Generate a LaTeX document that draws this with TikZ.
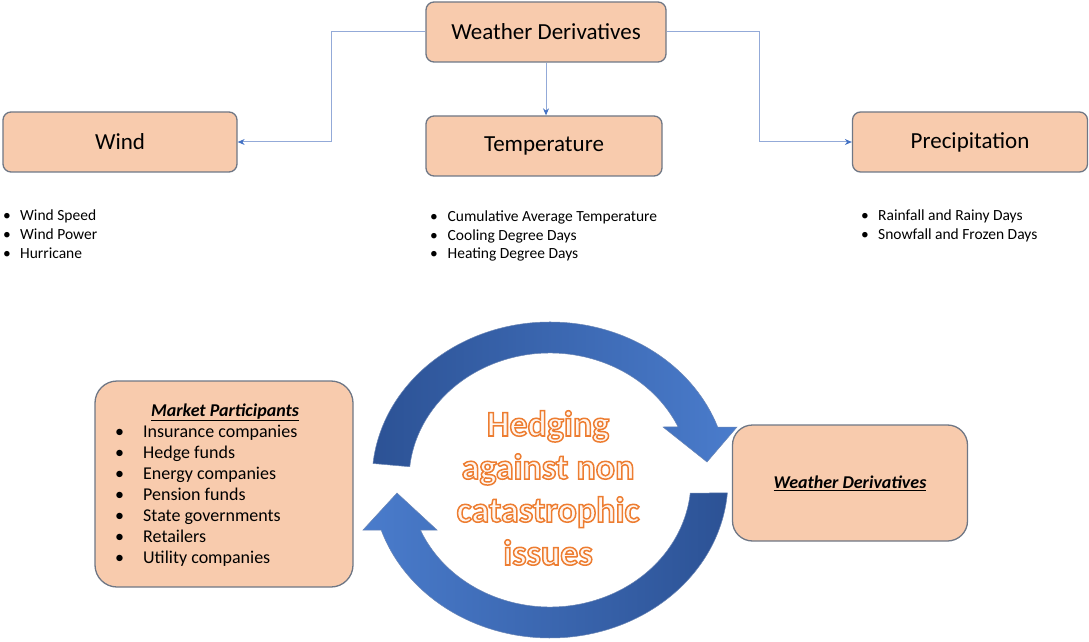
\documentclass[tikz,border=0pt]{standalone}
\usepackage{fontspec}
\setmainfont{Carlito}
\usetikzlibrary{arrows.meta, positioning, calc}

\definecolor{peach}{HTML}{F8CBAD}
\definecolor{boxline}{HTML}{6F7785}
\definecolor{linkline}{HTML}{93AAD8}
\definecolor{linkblue}{HTML}{4472C4}
\definecolor{ringdark}{HTML}{2C5295}
\definecolor{ringlight}{HTML}{4A7CCC}
\definecolor{hedgeorange}{HTML}{ED7D31}
\definecolor{hedgefill}{HTML}{FFF6F0}

\newcommand{\blt}[1]{\makebox[#1][l]{\textbullet}}
% outlined text: fill in the current colour, orange stroke
\newcommand{\outlined}[1]{\special{pdf:literal direct 2 Tr 1.5 w 0.929 0.490 0.192 RG}#1\special{pdf:literal direct 0 Tr}}

\begin{document}
\begin{tikzpicture}[
    x=1pt, y=1pt,
    % --- Node styles ---
    category/.style = {rectangle, rounded corners=8pt, draw=boxline, line width=1.3pt,
        fill=peach, minimum width=#1, minimum height=60pt, align=center,
        font=\fontsize{23}{27}\selectfont},
    category/.default = 236pt,
    panel/.style = {rectangle, rounded corners=22pt, draw=boxline, line width=1.3pt,
        fill=peach},
    bullets/.style = {inner sep=0pt, anchor=base west, font=\fontsize{15.5}{18.5}\selectfont},
    % --- Arrow style ---
    link/.style = {draw=linkline, line width=1pt,
        -{Stealth[length=7pt, width=6pt, color=linkblue]}},
    ring/.style = {draw=ringdark!70!white, line width=0.5pt}
]
\useasboundingbox (0,0) rectangle (1089,641);

% ==================== WEATHER TYPES ====================
\node[category=240pt] (wd) at (546,609) {Weather Derivatives};
\node[category=234pt] (wind) at (120,499) {Wind};
\node[category] (temp) at (544,495) {Temperature};
\node[category=235pt] (prec) at (970,499) {Precipitation};

% ==================== ARROWS ====================
\draw[link] (wd.west) -| ($(wd.west)!.5!(wind.east)$) |- (wind.east);
\draw[link] (wd.east) -| ($(wd.east)!.5!(prec.west)$) |- (prec.west);
\draw[link] (wd.south) -- (wd.south |- temp.north);

% ==================== INDICES ====================
\node[bullets] (windlist) at (3,420) {\begin{tabular}[t]{@{}l@{}}
    \blt{17pt}Wind Speed\\ \blt{17pt}Wind Power\\ \blt{17pt}Hurricane
\end{tabular}};
\node[bullets] (templist) at (430,419) {\begin{tabular}[t]{@{}l@{}}
    \blt{17.5pt}Cumulative Average Temperature\\ \blt{17.5pt}Cooling Degree Days\\
    \blt{17.5pt}Heating Degree Days
\end{tabular}};
\node[bullets] (preclist) at (861,420) {\begin{tabular}[t]{@{}l@{}}
    \blt{17pt}Rainfall and Rainy Days\\ \blt{17pt}Snowfall and Frozen Days
\end{tabular}};

% ==================== MARKET ====================
\node[panel, minimum width=258pt, minimum height=206pt] (mp) at (224,157) {};
\node[inner sep=0pt, anchor=base, font=\fontsize{18}{21}\selectfont\bfseries\itshape]
    (mptitle) at (225,225) {\underline{Market Participants}};
\node[bullets, font=\fontsize{18}{21}\selectfont] (mplist) at (115,204) {\begin{tabular}[t]{@{}l@{}}
    \blt{28pt}Insurance companies\\ \blt{28pt}Hedge funds\\ \blt{28pt}Energy companies\\
    \blt{28pt}Pension funds\\ \blt{28pt}State governments\\ \blt{28pt}Retailers\\
    \blt{28pt}Utility companies
\end{tabular}};

\node[panel, rounded corners=20pt, minimum width=235pt, minimum height=116pt,
    font=\fontsize{18}{22}\selectfont\bfseries\itshape] (wdbox) at (850,158)
    {\underline{Weather Derivatives}};

% ==================== CYCLE ====================
\coordinate (c) at (550,161);
\path[ring, shade, left color=ringdark, right color=ringlight]
    ($(c)+(174:178 and 158)$) arc[start angle=174, end angle=19.6, x radius=178, y radius=158]
    -- (737,214) -- (707,179) -- (663,214)
    -- ($(c)+(24.7:141 and 127)$) arc[start angle=24.7, end angle=174, x radius=141, y radius=127]
    -- cycle;
\path[ring, shade, left color=ringlight, right color=ringdark]
    ($(c)+(-4.7:178 and 158)$) arc[start angle=-4.7, end angle=-161.5, x radius=178, y radius=158]
    -- (363,111) -- (397,148) -- (437,111)
    -- ($(c)+(-156.8:141 and 127)$) arc[start angle=-156.8, end angle=-5.9, x radius=141, y radius=127]
    -- cycle;

\node[align=center, font=\fontsize{36}{43}\selectfont\bfseries, text=hedgefill]
    (hedge) at (548,153) {\outlined{Hedging}\\ \outlined{against non}\\
    \outlined{catastrophic}\\ \outlined{issues}};

\end{tikzpicture}
\end{document}
